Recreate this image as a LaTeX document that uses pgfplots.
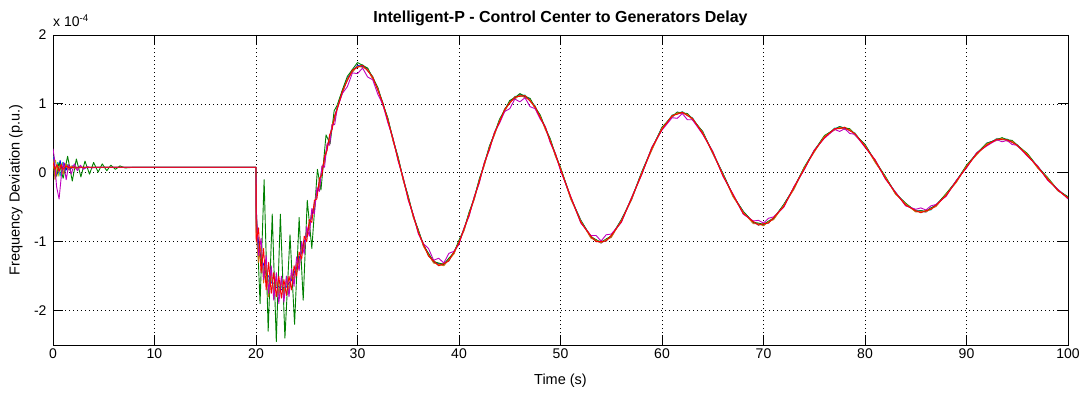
\documentclass[border=0pt]{standalone}
\usepackage{fontspec}
\setmainfont{Liberation Sans}
\usepackage{pgfplots}
\usepackage{pgfplotstable}
\pgfplotsset{compat=1.18}
\definecolor{mblue}{rgb}{0,0,1}
\definecolor{mgreen}{rgb}{0,0.5,0}
\definecolor{mred}{rgb}{1,0,0}
\definecolor{mcyan}{rgb}{0,0.75,0.75}
\definecolor{mmag}{rgb}{0.75,0,0.75}
\definecolor{molive}{rgb}{0.75,0.75,0}
\definecolor{morange}{rgb}{0.8,0.45,0.05}

\pgfplotstableread{
t bl gr cy ol ma or rd
28.0 0.94 0.98 0.95 0.94 0.93 0.95 0.92
28.5 1.16 1.20 1.19 1.18 1.15 1.15 1.18
29.0 1.37 1.40 1.34 1.35 1.25 1.36 1.34
29.5 1.47 1.50 1.50 1.49 1.45 1.46 1.49
30.0 1.56 1.60 1.53 1.54 1.44 1.55 1.53
30.5 1.54 1.56 1.57 1.56 1.52 1.53 1.56
31.0 1.51 1.52 1.48 1.49 1.39 1.50 1.48
31.5 1.37 1.38 1.40 1.39 1.35 1.36 1.39
32.0 1.23 1.24 1.20 1.21 1.14 1.22 1.20
32.5 0.99 1.00 1.02 1.01 0.99 0.98 1.01
33.0 0.78 0.79 0.75 0.76 0.72 0.77 0.75
33.5 0.47 0.48 0.50 0.49 0.50 0.46 0.49
34.0 0.22 0.23 0.19 0.20 0.17 0.21 0.19
34.5 -0.10 -0.09 -0.07 -0.08 -0.07 -0.11 -0.08
35.0 -0.35 -0.34 -0.38 -0.37 -0.40 -0.36 -0.38
35.5 -0.64 -0.63 -0.61 -0.62 -0.61 -0.65 -0.62
36.0 -0.84 -0.83 -0.87 -0.86 -0.89 -0.85 -0.87
36.5 -1.06 -1.05 -1.03 -1.04 -1.03 -1.07 -1.04
37.0 -1.18 -1.17 -1.21 -1.20 -1.10 -1.19 -1.21
37.5 -1.30 -1.29 -1.27 -1.28 -1.27 -1.31 -1.28
38.0 -1.32 -1.31 -1.35 -1.34 -1.24 -1.33 -1.35
38.5 -1.34 -1.33 -1.31 -1.32 -1.31 -1.35 -1.32
39.0 -1.25 -1.24 -1.28 -1.27 -1.17 -1.26 -1.28
39.5 -1.17 -1.16 -1.14 -1.15 -1.14 -1.18 -1.15
40.0 -0.99 -0.98 -1.02 -1.01 -1.04 -1.00 -1.02
40.5 -0.83 -0.82 -0.80 -0.81 -0.80 -0.84 -0.81
41.0 -0.58 -0.57 -0.61 -0.60 -0.63 -0.59 -0.61
41.5 -0.38 -0.37 -0.35 -0.36 -0.35 -0.39 -0.36
42.0 -0.10 -0.09 -0.13 -0.12 -0.15 -0.11 -0.13
42.5 0.12 0.13 0.15 0.14 0.15 0.11 0.14
43.0 0.38 0.39 0.35 0.36 0.33 0.37 0.35
43.5 0.56 0.57 0.59 0.58 0.59 0.55 0.58
44.0 0.77 0.78 0.74 0.75 0.72 0.76 0.74
44.5 0.90 0.91 0.93 0.92 0.89 0.89 0.92
45.0 1.04 1.05 1.01 1.02 0.93 1.03 1.01
45.5 1.08 1.09 1.11 1.10 1.07 1.07 1.10
46.0 1.14 1.15 1.11 1.12 1.03 1.13 1.11
46.5 1.10 1.11 1.13 1.12 1.09 1.09 1.12
47.0 1.07 1.08 1.04 1.05 0.96 1.06 1.04
47.5 0.94 0.95 0.97 0.96 0.93 0.93 0.96
48.0 0.83 0.84 0.80 0.81 0.78 0.82 0.80
48.5 0.64 0.65 0.67 0.66 0.67 0.63 0.66
49.0 0.48 0.49 0.45 0.46 0.43 0.47 0.45
49.5 0.25 0.26 0.28 0.27 0.28 0.24 0.27
50.0 0.07 0.08 0.05 0.06 0.03 0.07 0.05
51.0 -0.37 -0.36 -0.35 -0.35 -0.34 -0.38 -0.35
52.0 -0.69 -0.69 -0.72 -0.71 -0.73 -0.70 -0.72
53.0 -0.94 -0.93 -0.92 -0.92 -0.91 -0.95 -0.92
53.5 -0.98 -0.97 -1.00 -0.99 -0.91 -0.98 -1.00
54.0 -1.02 -1.01 -0.99 -1.00 -0.99 -1.02 -1.00
54.5 -0.97 -0.96 -0.99 -0.98 -0.90 -0.97 -0.99
55.0 -0.93 -0.92 -0.91 -0.91 -0.89 -0.94 -0.91
56.0 -0.68 -0.68 -0.71 -0.70 -0.72 -0.69 -0.71
57.0 -0.39 -0.38 -0.36 -0.37 -0.36 -0.39 -0.37
58.0 0.01 0.01 -0.02 -0.01 -0.03 0.00 -0.02
59.0 0.34 0.35 0.37 0.36 0.37 0.33 0.36
60.0 0.66 0.66 0.63 0.64 0.62 0.65 0.63
61.0 0.81 0.82 0.84 0.83 0.80 0.81 0.83
61.5 0.88 0.88 0.85 0.86 0.79 0.87 0.85
62.0 0.86 0.87 0.89 0.88 0.86 0.86 0.88
62.5 0.86 0.86 0.83 0.84 0.77 0.85 0.83
63.0 0.77 0.78 0.80 0.79 0.77 0.77 0.79
64.0 0.60 0.60 0.57 0.58 0.56 0.59 0.57
65.0 0.28 0.29 0.31 0.30 0.31 0.28 0.30
66.0 -0.01 -0.01 -0.04 -0.03 -0.05 -0.02 -0.04
67.0 -0.34 -0.33 -0.32 -0.32 -0.31 -0.35 -0.32
68.0 -0.56 -0.56 -0.59 -0.58 -0.60 -0.57 -0.59
69.0 -0.73 -0.72 -0.71 -0.71 -0.70 -0.74 -0.71
69.5 -0.74 -0.73 -0.76 -0.75 -0.69 -0.74 -0.76
70.0 -0.76 -0.75 -0.74 -0.74 -0.73 -0.77 -0.74
70.5 -0.71 -0.70 -0.73 -0.72 -0.66 -0.71 -0.73
71.0 -0.67 -0.66 -0.65 -0.65 -0.64 -0.68 -0.65
72.0 -0.46 -0.46 -0.49 -0.48 -0.50 -0.47 -0.49
73.0 -0.23 -0.22 -0.21 -0.21 -0.20 -0.24 -0.21
74.0 0.07 0.08 0.05 0.06 0.04 0.07 0.05
75.0 0.31 0.32 0.33 0.32 0.33 0.30 0.32
76.0 0.53 0.54 0.51 0.52 0.50 0.53 0.51
77.0 0.63 0.63 0.65 0.64 0.63 0.62 0.64
77.5 0.67 0.67 0.65 0.65 0.60 0.66 0.64
78.0 0.64 0.65 0.66 0.66 0.64 0.63 0.66
78.5 0.63 0.64 0.61 0.62 0.57 0.63 0.61
79.0 0.55 0.56 0.58 0.57 0.56 0.55 0.57
80.0 0.41 0.41 0.38 0.39 0.37 0.40 0.38
81.0 0.16 0.17 0.18 0.18 0.19 0.15 0.18
82.0 -0.06 -0.05 -0.08 -0.07 -0.09 -0.06 -0.08
83.0 -0.30 -0.30 -0.28 -0.29 -0.28 -0.31 -0.29
84.0 -0.45 -0.44 -0.47 -0.46 -0.48 -0.45 -0.47
85.0 -0.56 -0.56 -0.54 -0.55 -0.53 -0.57 -0.55
85.5 -0.55 -0.55 -0.58 -0.57 -0.51 -0.56 -0.58
86.0 -0.57 -0.56 -0.55 -0.55 -0.54 -0.57 -0.55
86.5 -0.51 -0.51 -0.54 -0.53 -0.48 -0.52 -0.53
87.0 -0.48 -0.47 -0.46 -0.47 -0.46 -0.49 -0.47
88.0 -0.31 -0.30 -0.33 -0.32 -0.34 -0.31 -0.33
89.0 -0.13 -0.12 -0.11 -0.12 -0.11 -0.14 -0.12
90.0 0.10 0.11 0.08 0.09 0.07 0.10 0.08
91.0 0.27 0.28 0.29 0.28 0.29 0.26 0.28
92.0 0.43 0.43 0.40 0.41 0.39 0.42 0.40
93.0 0.48 0.48 0.50 0.49 0.48 0.47 0.49
93.5 0.50 0.51 0.48 0.49 0.45 0.50 0.48
94.0 0.47 0.48 0.49 0.48 0.47 0.46 0.48
94.5 0.46 0.47 0.44 0.45 0.41 0.46 0.44
95.0 0.39 0.40 0.41 0.40 0.40 0.39 0.40
96.0 0.27 0.28 0.25 0.26 0.24 0.27 0.25
97.0 0.08 0.09 0.10 0.09 0.10 0.07 0.09
98.0 -0.08 -0.07 -0.10 -0.09 -0.11 -0.08 -0.10
99.0 -0.26 -0.25 -0.24 -0.25 -0.24 -0.26 -0.25
100.0 -0.35 -0.35 -0.37 -0.37 -0.38 -0.36 -0.37
}\tbl

\begin{document}
\begin{tikzpicture}
\begin{axis}[
  name=ax,
  width=1015pt, height=310pt, scale only axis,
  xmin=0, xmax=100, ymin=-2.5, ymax=2,
  xtick={0,10,...,100}, ytick={-2,-1,0,1,2},
  grid=major,
  grid style={black, line width=0.7pt, dash pattern=on 0.7pt off 3.3pt},
  tick align=inside,
  major tick length=10pt,
  axis line style={black, line width=0.8pt},
  every tick/.style={black, line width=0.8pt},
  tick label style={font=\fontsize{14}{16}\selectfont},
  yticklabel style={xshift=-3pt},
  /pgf/number format/assume math mode=true,
  every axis plot/.append style={line width=0.9pt, line join=round},
]
% cyan
\addplot[mcyan] coordinates {(0,0.25)(0.2,0.0)(0.45,0.15)(0.7,-0.05)(0.95,0.15)(1.2,0.02)(1.45,0.12)(1.7,0.05)(2.0,0.10)(2.4,0.07)(3,0.08)(20,0.08)(20.02,-0.8)(20.25,-1.1)(20.5,-1.2)(20.75,-1.42)(21,-1.42)(21.25,-1.58)(21.5,-1.55)(21.75,-1.68)(22,-1.62)(22.25,-1.72)(22.5,-1.65)(22.75,-1.72)(23,-1.62)(23.25,-1.66)(23.5,-1.52)(23.75,-1.52)(24,-1.33)(24.25,-1.30)(24.5,-1.10)(24.75,-1.05)(25,-0.86)(25.25,-0.80)(25.5,-0.58)(25.75,-0.50)(26,-0.27)(26.25,-0.17)(26.5,0.06)(26.75,0.17)(27,0.38)(27.25,0.50)(27.5,0.68)(27.75,0.79)(28,0.95)};
\addplot[mcyan] table[x=t,y=cy]{\tbl};
% olive
\addplot[molive] coordinates {(0,0.10)(0.25,0.18)(0.5,-0.05)(0.8,0.14)(1.05,0.0)(1.35,0.12)(1.65,0.04)(2.0,0.10)(2.5,0.07)(3,0.08)(20,0.08)(20.02,-0.6)(20.25,-1.15)(20.5,-1.1)(20.75,-1.5)(21,-1.4)(21.25,-1.65)(21.5,-1.5)(21.75,-1.72)(22,-1.58)(22.25,-1.75)(22.5,-1.6)(22.75,-1.74)(23,-1.58)(23.25,-1.7)(23.5,-1.5)(23.75,-1.55)(24,-1.3)(24.25,-1.33)(24.5,-1.08)(24.75,-1.08)(25,-0.85)(25.25,-0.82)(25.5,-0.58)(25.75,-0.52)(26,-0.27)(26.25,-0.2)(26.5,0.05)(26.75,0.14)(27,0.38)(27.25,0.47)(27.5,0.69)(27.75,0.77)(28,0.94)};
\addplot[molive] table[x=t,y=ol]{\tbl};
% blue
\addplot[mblue] coordinates {(0,0.22)(0.15,0.10)(0.3,-0.05)(0.5,0.02)(0.7,0.18)(0.9,0.02)(1.1,0.14)(1.3,0.04)(1.5,0.11)(1.7,0.05)(1.9,0.10)(2.2,0.06)(2.6,0.09)(3,0.07)(4,0.08)(20,0.08)(20.02,-0.7)(20.25,-1.0)(20.5,-1.25)(20.75,-1.33)(21,-1.48)(21.25,-1.50)(21.5,-1.60)(21.75,-1.60)(22,-1.67)(22.25,-1.65)(22.5,-1.70)(22.75,-1.66)(23,-1.66)(23.25,-1.60)(23.5,-1.56)(23.75,-1.45)(24,-1.38)(24.25,-1.24)(24.5,-1.15)(24.75,-1.00)(25,-0.91)(25.25,-0.75)(25.5,-0.63)(25.75,-0.45)(26,-0.31)(26.25,-0.12)(26.5,0.02)(26.75,0.21)(27,0.35)(27.25,0.53)(27.5,0.65)(27.75,0.82)(28,0.94)};
\addplot[mblue] table[x=t,y=bl]{\tbl};
% green
\addplot[mgreen] coordinates {(0,0.12)(0.3,-0.05)(0.6,0.15)(1.0,-0.08)(1.44,0.24)(1.9,-0.12)(2.3,0.20)(2.75,-0.06)(3.15,0.17)(3.6,-0.02)(4.0,0.15)(4.45,0.01)(4.85,0.13)(5.3,0.03)(5.7,0.11)(6.15,0.05)(6.6,0.10)(7.1,0.07)(8,0.08)(20,0.08)(20.05,-0.6)(20.4,-1.9)(20.8,-0.1)(21.2,-2.3)(21.6,-0.6)(22.0,-2.45)(22.4,-0.6)(22.85,-2.4)(23.35,-0.9)(23.8,-2.2)(24.25,-0.65)(24.65,-1.85)(25.05,-0.4)(25.5,-1.1)(26.05,0.05)(26.4,-0.25)(26.9,0.55)(27.3,0.42)(27.7,0.9)(28,0.98)};
\addplot[mgreen] table[x=t,y=gr]{\tbl};
% orange
\addplot[morange] coordinates {(0,0.2)(0.2,-0.1)(0.45,0.08)(0.7,0.10)(1.0,-0.02)(1.25,0.13)(1.5,0.04)(1.8,0.10)(2.2,0.06)(2.8,0.08)(20,0.08)(20.02,-0.9)(20.25,-1.3)(20.5,-1.05)(20.75,-1.6)(21,-1.3)(21.25,-1.8)(21.5,-1.4)(21.75,-1.75)(22,-1.5)(22.25,-1.78)(22.5,-1.55)(22.75,-1.8)(23,-1.52)(23.25,-1.75)(23.5,-1.45)(23.75,-1.6)(24,-1.3)(24.25,-1.4)(24.5,-1.05)(24.75,-1.1)(25,-0.85)(25.25,-0.82)(25.5,-0.55)(25.75,-0.5)(26,-0.25)(26.25,-0.18)(26.5,0.08)(26.75,0.15)(27,0.40)(27.25,0.48)(27.5,0.70)(27.75,0.78)(28,0.95)};
\addplot[morange] table[x=t,y=or]{\tbl};
% magenta
\addplot[mmag] coordinates {(0,0.35)(0.15,0.2)(0.35,-0.2)(0.6,-0.38)(0.85,0.0)(1.05,0.15)(1.3,-0.1)(1.55,0.12)(1.8,-0.02)(2.1,0.13)(2.4,0.03)(2.7,0.11)(3.0,0.05)(3.4,0.09)(3.8,0.07)(4.5,0.08)(20,0.08)(20.02,-0.5)(20.25,-1.2)(20.5,-0.95)(20.75,-1.55)(21,-1.2)(21.25,-1.75)(21.5,-1.35)(21.75,-1.85)(22,-1.45)(22.25,-1.9)(22.5,-1.5)(22.75,-1.88)(23,-1.5)(23.25,-1.8)(23.5,-1.4)(23.75,-1.65)(24,-1.22)(24.25,-1.42)(24.5,-1.0)(24.75,-1.18)(25,-0.78)(25.25,-0.92)(25.5,-0.52)(25.75,-0.6)(26,-0.22)(26.25,-0.27)(26.5,0.10)(26.75,0.08)(27,0.42)(27.25,0.40)(27.5,0.70)(27.75,0.70)(28,0.93)};
\addplot[mmag] table[x=t,y=ma]{\tbl};
% red
\addplot[mred] coordinates {(0,0.15)(0.2,0.05)(0.4,0.12)(0.6,0.02)(0.8,0.12)(1.0,0.05)(1.3,0.10)(1.6,0.07)(2.0,0.08)(20,0.08)(20.02,-1.0)(20.25,-0.8)(20.5,-1.45)(20.75,-1.1)(21,-1.7)(21.25,-1.3)(21.5,-1.75)(21.75,-1.45)(22,-1.8)(22.25,-1.5)(22.5,-1.82)(22.75,-1.55)(23,-1.78)(23.25,-1.5)(23.5,-1.7)(23.75,-1.35)(24,-1.5)(24.25,-1.15)(24.5,-1.25)(24.75,-0.92)(25,-1.0)(25.25,-0.68)(25.5,-0.72)(25.75,-0.4)(26,-0.38)(26.25,-0.08)(26.5,-0.03)(26.75,0.24)(27,0.32)(27.25,0.55)(27.5,0.63)(27.75,0.83)(28,0.92)};
\addplot[mred] table[x=t,y=rd]{\tbl};
\end{axis}
\node[font=\fontsize{14.5}{17}\selectfont] at ([yshift=-36pt]ax.south) {Time (s)};
\node[rotate=90, font=\fontsize{14.5}{17}\selectfont] at ([xshift=-37pt]ax.west) {Frequency Deviation (p.u.)};
\node[font=\bfseries\fontsize{16}{18}\selectfont] at ([yshift=17pt]ax.north) {Intelligent-P - Control Center to Generators Delay};
\node[anchor=base west, inner sep=0pt, font=\fontsize{14}{16}\selectfont] at ([yshift=8pt]ax.north west) {x 10\textsuperscript{-4}};
\pgfresetboundingbox
\useasboundingbox ([xshift=-53pt,yshift=-49pt]ax.south west) rectangle ([xshift=18pt,yshift=35pt]ax.north east);
\end{tikzpicture}
\end{document}
